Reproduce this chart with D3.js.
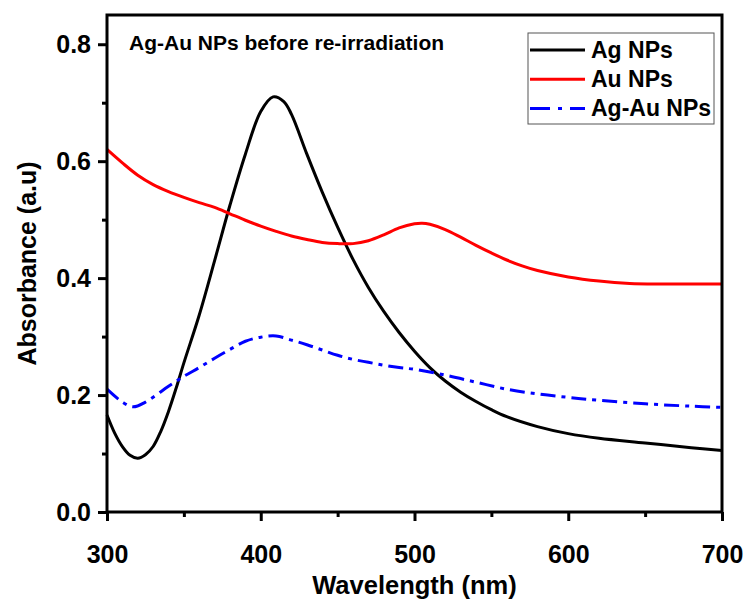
<!DOCTYPE html>
<html lang="en">
<head>
    <meta charset="UTF-8">
    <title>Ag-Au NPs absorbance</title>
    <script src="https://cdn.jsdelivr.net/npm/d3@7"></script>
    <style>
        body { margin: 0; background: #fff; }
        text { font-family: "Liberation Sans", Arial, sans-serif; font-weight: bold; }
    </style>
</head>
<body>
    <svg id="main" width="744" height="599"></svg>
    <script>
        // wavelengths (nm) and absorbance
        const agWl = [300,305,310,315,320,325,330,335,340,345,350,360,370,380,390,400,408,415,420,430,440,450,460,470,480,490,500,510,520,530,540,550,560,580,600,620,650,680,700];
        const agAbs = [0.166,0.135,0.112,0.097,0.092,0.098,0.112,0.138,0.172,0.212,0.255,0.337,0.43,0.525,0.612,0.685,0.71,0.702,0.68,0.612,0.547,0.487,0.432,0.384,0.343,0.307,0.275,0.247,0.224,0.205,0.189,0.175,0.163,0.146,0.134,0.126,0.118,0.11,0.105];

        const auWl = [300,310,320,330,340,350,360,370,380,390,400,410,420,430,440,450,460,470,480,490,500,505,510,520,530,540,550,560,570,580,600,620,640,660,680,700];
        const auAbs = [0.62,0.597,0.576,0.56,0.548,0.538,0.529,0.521,0.51,0.499,0.489,0.48,0.472,0.466,0.461,0.459,0.459,0.464,0.474,0.486,0.493,0.494,0.492,0.483,0.47,0.456,0.443,0.431,0.421,0.413,0.402,0.395,0.391,0.39,0.39,0.39];

        const agauWl = [300,310,317,325,340,350,360,370,380,390,400,410,420,430,440,450,460,470,480,490,500,520,540,560,580,600,620,650,680,700];
        const agauAbs = [0.21,0.188,0.18,0.188,0.215,0.232,0.247,0.263,0.278,0.292,0.299,0.301,0.294,0.286,0.277,0.268,0.261,0.256,0.251,0.247,0.244,0.234,0.222,0.21,0.202,0.196,0.191,0.185,0.181,0.179];

        const seriesNames = ['Ag NPs', 'Au NPs', 'Ag-Au NPs'];
        const xTicks = [300, 400, 500, 600, 700];
        const yTicks = [0.0, 0.2, 0.4, 0.6, 0.8];

        const svg = d3.select('svg#main');
        const plot = {left: 107, right: 722, top: 15, bottom: 512};

        const x = d3.scaleLinear().domain([300, 700]).range([plot.left, plot.right]);
        const y = d3.scaleLinear().domain([0, 0.85]).range([plot.bottom, plot.top]);

        const series = [
            {name: seriesNames[0], wl: agWl, abs: agAbs, color: '#000000', dash: null},
            {name: seriesNames[1], wl: auWl, abs: auAbs, color: '#ff0000', dash: null},
            {name: seriesNames[2], wl: agauWl, abs: agauAbs, color: '#0000ff', dash: '15,6,4,6'}
        ];

        const line = d3.line()
            .x(d => x(d[0]))
            .y(d => y(d[1]))
            .curve(d3.curveCatmullRom.alpha(0.5));

        // draw curves
        series.forEach(s => {
            svg.append('path')
                .datum(d3.zip(s.wl, s.abs))
                .attr('d', line)
                .attr('fill', 'none')
                .attr('stroke', s.color)
                .attr('stroke-width', 3)
                .attr('stroke-dasharray', s.dash);
        });

        // frame
        svg.append('rect')
            .attr('x', plot.left).attr('y', plot.top)
            .attr('width', plot.right - plot.left)
            .attr('height', plot.bottom - plot.top)
            .attr('fill', 'none')
            .attr('stroke', '#000')
            .attr('stroke-width', 3);

        // axes, major and minor ticks
        const xAxis = svg.append('g').attr('transform', `translate(0,${plot.bottom})`);
        xAxis.call(d3.axisBottom(x).tickValues(xTicks).tickSize(9).tickFormat(d3.format('d')));
        svg.append('g').attr('transform', `translate(0,${plot.bottom})`)
            .call(d3.axisBottom(x).tickValues([350, 450, 550, 650]).tickSize(5).tickFormat(''));

        const yAxis = svg.append('g').attr('transform', `translate(${plot.left},0)`);
        yAxis.call(d3.axisLeft(y).tickValues(yTicks).tickSize(9).tickFormat(d3.format('.1f')).tickPadding(7));
        svg.append('g').attr('transform', `translate(${plot.left},0)`)
            .call(d3.axisLeft(y).tickValues([0.1, 0.3, 0.5, 0.7]).tickSize(5).tickFormat(''));

        svg.selectAll('.domain').remove();
        svg.selectAll('.tick line').attr('stroke', '#000').attr('stroke-width', 3);
        svg.selectAll('.tick text')
            .attr('fill', '#000')
            .style('font-size', '25px');
        xAxis.selectAll('.tick text').attr('y', 51).attr('dy', 0);

        // axis titles
        svg.append('text')
            .attr('x', (plot.left + plot.right) / 2)
            .attr('y', 594)
            .attr('text-anchor', 'middle')
            .style('font-size', '25.5px')
            .text('Wavelength (nm)');

        svg.append('text')
            .attr('transform', `translate(36,${(plot.top + plot.bottom) / 2}) rotate(-90)`)
            .attr('text-anchor', 'middle')
            .style('font-size', '25px')
            .text('Absorbance (a.u)');

        // annotation
        svg.append('text')
            .attr('x', 129).attr('y', 50)
            .style('font-size', '21px')
            .text('Ag-Au NPs before re-irradiation');

        // legend
        const legend = svg.append('g');
        legend.append('rect')
            .attr('x', 528).attr('y', 33)
            .attr('width', 186).attr('height', 91)
            .attr('fill', '#fff')
            .attr('stroke', '#555')
            .attr('stroke-width', 1);

        series.forEach((s, i) => {
            const ly = 50 + i * 29.2;
            legend.append('line')
                .attr('x1', 530).attr('x2', 585)
                .attr('y1', ly).attr('y2', ly)
                .attr('stroke', s.color)
                .attr('stroke-width', 3)
                .attr('stroke-dasharray', s.dash ? '20,8,4,8' : null);
            legend.append('text')
                .attr('x', 591).attr('y', ly + 8)
                .style('font-size', '23px')
                .text(s.name);
        });
    </script>
</body>
</html>
